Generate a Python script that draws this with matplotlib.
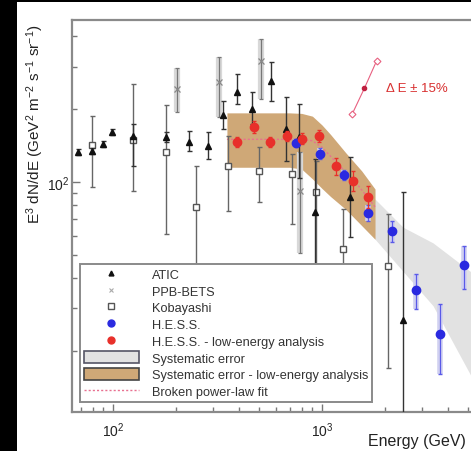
import matplotlib
matplotlib.use('Agg')
import matplotlib.pyplot as plt
from matplotlib.patches import Patch, Rectangle
from matplotlib.lines import Line2D
from matplotlib.ticker import NullFormatter

plt.rcParams['font.family'] = ['Liberation Sans', 'DejaVu Sans']
plt.rcParams['mathtext.fontset'] = 'custom'
plt.rcParams['mathtext.rm'] = 'Liberation Sans'
plt.rcParams['mathtext.it'] = 'Liberation Sans:italic'
plt.rcParams['mathtext.bf'] = 'Liberation Sans:bold'

# ---------------- data ----------------
atic_E = [68, 79, 90, 99, 125, 180, 231, 285, 336, 392, 462, 570, 673, 777, 926, 1361, 2443]
atic_F = [133, 134, 144, 161, 155, 153, 146, 141, 189, 235, 200, 261, 166, 153, 75, 87, 27]
atic_lo = [129, 130, 140, 157, 116, 146, 134, 124, 166, 210, 174, 216, 122, 104, 46, 59, 8]
atic_hi = [137, 138, 148, 165, 174, 161, 162, 161, 216, 279, 235, 313, 224, 210, 124, 127, 91]

ppb_E = [202, 321, 511, 785]
ppb_F = [242, 259, 316, 92]
ppb_lo = [195, 186, 220, 51]
ppb_hi = [296, 329, 390, 133]

koba_E = [79, 125, 180, 249, 355, 500, 718, 935, 1259, 2070]
koba_F = [142, 149, 133, 79, 116, 111, 108, 91, 53, 45]
koba_lo = [95, 92, 61, 46, 76, 83, 67, 46, 46, 17]
koba_hi = [187, 254, 208, 116, 155, 140, 131, 122, 77, 74]

hess_E = [749, 978, 1277, 1668, 2154, 2813, 3673, 4798]
hess_F = [145, 131, 107, 74.5, 62.8, 35.8, 23.5, 45.4]
hess_lo = [140, 124, 102, 69, 56.5, 29.8, 16.1, 36.1]
hess_hi = [150, 138, 112, 80, 69, 41.7, 31.3, 54.5]

hessle_E = [393, 475, 567, 678, 800, 967, 1169, 1412, 1668]
hessle_F = [146, 169, 146, 155, 151, 155, 116, 101, 86.7]
hessle_lo = [139, 160, 139, 147, 143, 146, 107, 92, 78]
hessle_hi = [153, 178, 153, 163, 159, 164, 126, 111, 96]

sys_E = [1000, 1794, 2443, 3398, 5164, 6000]
sys_lo = [98, 58, 42.7, 30.8, 15.8, 12.4]
sys_hi = [124, 85, 65, 56, 42.5, 38.5]

sysle_E = [351, 700, 800, 900, 1000, 1100, 1300, 1550, 1794]
sysle_lo = [115, 115, 113, 103, 94, 87, 77, 66, 58]
sysle_hi = [193, 193, 192, 187, 172, 157, 132, 111, 93.5]

fit_E = [351, 800, 900, 1000, 1200, 1500, 1794]
fit_F = [150, 150, 148, 139, 118, 96, 79]

dE_E = [1396, 1596, 1824]
dE_F = [191, 244, 316]

# ---------------- figure ----------------
W, H = 471, 452
fig = plt.figure(figsize=(W / 100, H / 100), dpi=100)
ax_l, ax_r, ax_t, ax_b = 72, 471, 21, 413
ax = fig.add_axes([ax_l / W, 1 - ax_b / H, (ax_r - ax_l) / W, (ax_b - ax_t) / H])
ax.set_xscale('log')
ax.set_yscale('log')
ax.set_xlim(63.7, 5164)
ax.set_ylim(11.2, 467)

gray_face = '#e2e2e2'
tan_face = '#cfa877'

ax.fill_between(sys_E, sys_lo, sys_hi, color=gray_face, lw=0, zorder=1)
ax.fill_between(sysle_E, sysle_lo, sysle_hi, color=tan_face, lw=0, zorder=2)
ax.plot(fit_E, fit_F, ls=(0, (1.5, 1.5)), color='#e87090', lw=1.0, zorder=3)


def yerr(F, lo, hi):
    return [[f - l for f, l in zip(F, lo)], [h - f for f, h in zip(F, hi)]]


# PPB-BETS: gray boxes + thin bar
ax.errorbar(ppb_E, ppb_F, yerr=yerr(ppb_F, ppb_lo, ppb_hi), fmt='none',
            ecolor='#d8d8d8', elinewidth=4.5, capsize=0, zorder=4)
ax.errorbar(ppb_E, ppb_F, yerr=yerr(ppb_F, ppb_lo, ppb_hi), fmt='x', ms=4,
            color='#888888', mew=0.9, ecolor='#777777', elinewidth=0.9, capsize=1.5, zorder=5)

# Kobayashi
ax.errorbar(koba_E, koba_F, yerr=yerr(koba_F, koba_lo, koba_hi), fmt='s', ms=5,
            mfc='white', mec='#555555', mew=1.0, ecolor='#666666', elinewidth=1.0,
            capsize=1.8, zorder=5)

# ATIC
ax.errorbar(atic_E, atic_F, yerr=yerr(atic_F, atic_lo, atic_hi), fmt='^', ms=4.2,
            color='#111111', ecolor='#333333', elinewidth=1.0, capsize=1.8, zorder=6)

# H.E.S.S.
ax.errorbar(hess_E, hess_F, yerr=yerr(hess_F, hess_lo, hess_hi), fmt='none',
            ecolor='#d0d0f0', elinewidth=4.0, capsize=0, zorder=6)
ax.errorbar(hess_E, hess_F, yerr=yerr(hess_F, hess_lo, hess_hi), fmt='o', ms=6,
            color='#2a2ae0', ecolor='#5a5ae8', elinewidth=0.9, capsize=1.5, zorder=7)

# H.E.S.S. low energy
ax.errorbar(hessle_E, hessle_F, yerr=yerr(hessle_F, hessle_lo, hessle_hi), fmt='o', ms=6,
            color='#e8302a', ecolor='#e8302a', elinewidth=0.9, capsize=1.5, zorder=8)

# Delta E annotation
ax.plot(dE_E, dE_F, color='#e86080', lw=0.8, zorder=8)
ax.plot([dE_E[0], dE_E[2]], [dE_F[0], dE_F[2]], 'D', ms=3.5, mfc='white',
        mec='#e86080', mew=0.8, ls='none', zorder=9)
ax.plot([dE_E[1]], [dE_F[1]], 'o', ms=3, color='#c02040', zorder=9)
ax.text(2020, 244, 'Δ E ± 15%', color='#d83030', fontsize=9.5, va='center', ha='left')

# spines & ticks
for s in ['left', 'top', 'bottom']:
    ax.spines[s].set_color('#8a8a8a')
    ax.spines[s].set_linewidth(1.6)
ax.spines['right'].set_visible(False)
ax.tick_params(which='both', direction='in', color='#777777', width=1.0,
               labelsize=10, labelcolor='#222222')
ax.tick_params(which='major', length=6)
ax.tick_params(which='minor', length=3.5)
ax.tick_params(axis='x', pad=6)
ax.tick_params(axis='y', pad=1.5)
ax.yaxis.set_minor_formatter(NullFormatter())
ax.xaxis.set_minor_formatter(NullFormatter())

ax.set_ylabel(r'E$^3$ dN/dE (GeV$^2$ m$^{-2}$ s$^{-1}$ sr$^{-1}$)', fontsize=11,
              color='#222222')
ax.yaxis.set_label_coords(-25.5 / (ax_r - ax_l), (ax_b - 124) / (ax_b - ax_t))

fig.text(368 / W, 1 - 442 / H, 'Energy (GeV)', fontsize=11.5, ha='left', va='center',
         color='#222222')

# legend
handles = [
    Line2D([], [], ls='none', marker='^', ms=3.5, color='#111111'),
    Line2D([], [], ls='none', marker='x', ms=3.5, color='#aaaaaa', mew=0.8),
    Line2D([], [], ls='none', marker='s', ms=4.5, mfc='white', mec='#555555'),
    Line2D([], [], ls='none', marker='o', ms=5, color='#2a2ae0'),
    Line2D([], [], ls='none', marker='o', ms=5, color='#e8302a'),
    Patch(facecolor=gray_face, edgecolor='#555566', lw=1.2),
    Patch(facecolor=tan_face, edgecolor='#444444', lw=1.2),
    Line2D([], [], ls=(0, (1.5, 1.5)), color='#e87090', lw=1.0),
]
labels = ['ATIC', 'PPB-BETS', 'Kobayashi', 'H.E.S.S.', 'H.E.S.S. - low-energy analysis',
          'Systematic error', 'Systematic error - low-energy analysis',
          'Broken power-law fit']
leg = ax.legend(handles, labels, loc='lower left',
                bbox_to_anchor=((80 - ax_l) / (ax_r - ax_l), (ax_b - 403) / (ax_b - ax_t)),
                fontsize=9.2, frameon=True, fancybox=False, framealpha=1,
                edgecolor='#8a8a8a', handlelength=4.3, handleheight=1.05,
                labelspacing=0.27, borderpad=0.3, handletextpad=1.0,
                borderaxespad=0)
leg.get_frame().set_linewidth(1.4)
for t in leg.get_texts():
    t.set_color('#333333')
leg.set_zorder(20)

# black borders of the cropped screenshot
fig.patches.append(Rectangle((0, 0), 17 / W, 1, transform=fig.transFigure,
                             facecolor='black', edgecolor='none', zorder=50))
fig.patches.append(Rectangle((0, 1 - 3 / H), 1, 3 / H, transform=fig.transFigure,
                             facecolor='black', edgecolor='none', zorder=50))

fig.savefig('out.png', dpi=100)
